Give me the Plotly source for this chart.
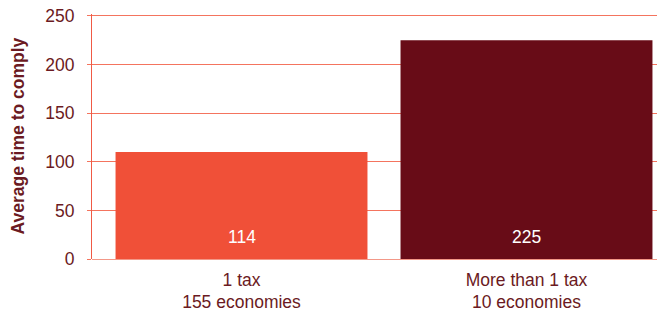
import plotly.graph_objects as go

categories = ["1 tax<br>155 economies", "More than 1 tax<br>10 economies"]
positions = [0, 1]
bar_heights = [110, 225]
bar_labels = ["114", "225"]
bar_colors = ["#f05038", "#680c17"]
y_ticks = [0, 50, 100, 150, 200, 250]

dark = "#6b1a22"
grid = "#f4745e"
FONT = "Liberation Sans, Arial"

# page has an 8px body margin; figure is sized to fit the 665x312 window
W, H = 657, 304
L, R, T, B = 84, 1, 6, 53

fig = go.Figure()
fig.add_trace(go.Bar(
    x=positions, y=bar_heights, width=0.884,
    marker=dict(color=bar_colors, line=dict(width=0)),
    hoverinfo="skip",
))
for xp, lab in zip(positions, bar_labels):
    fig.add_annotation(x=xp, y=0, yshift=22, text=lab, showarrow=False,
                       font=dict(color="white", size=17.5, family=FONT),
                       xref="x", yref="y")

fig.add_annotation(x=(9 - L) / (W - L - R), y=0.5, xref="paper", yref="paper",
                   xanchor="center", yanchor="middle",
                   text="<b>Average time to comply</b>", showarrow=False,
                   textangle=-90, font=dict(size=17.5, color=dark, family=FONT))

fig.update_layout(
    width=W, height=H,
    margin=dict(l=L, r=R, t=T, b=B, autoexpand=False),
    paper_bgcolor="white", plot_bgcolor="white",
    showlegend=False,
    font=dict(family=FONT, color=dark, size=17.5),
)

fig.update_xaxes(
    range=[-0.5246, 1.4825],
    tickvals=positions, ticktext=categories,
    showgrid=False, zeroline=False, showline=False,
    ticks="", tickfont=dict(size=17.5, color=dark),
    ticklabelstandoff=8, automargin=False,
)
fig.update_yaxes(
    range=[0, 252], tickvals=y_ticks,
    showgrid=True, gridcolor=grid, gridwidth=1,
    zeroline=True, zerolinecolor="#f39888", zerolinewidth=1,
    showline=True, linecolor="#f05a45", linewidth=1,
    ticks="outside", ticklen=4, tickcolor=grid,
    tickfont=dict(size=17.5, color=dark), automargin=False,
    ticklabelstandoff=9, ticklabeloverflow="allow",
)
fig.write_html("out.html")
